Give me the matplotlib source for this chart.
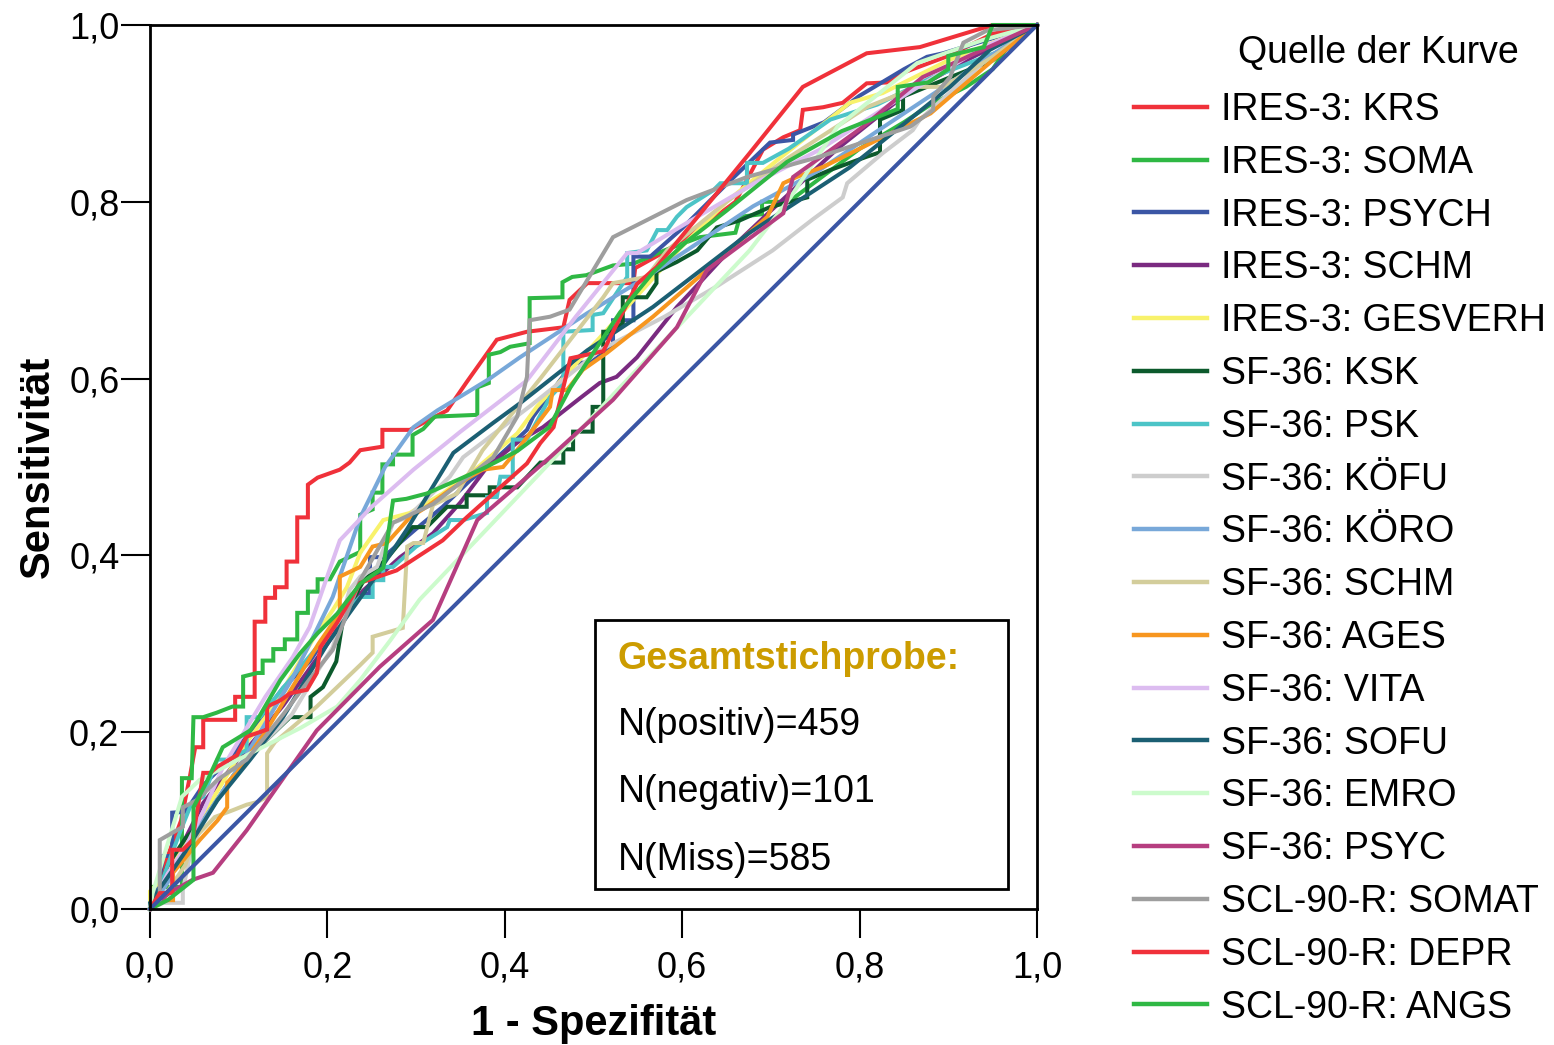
import matplotlib
matplotlib.use("Agg")
import matplotlib.pyplot as plt
from matplotlib.ticker import FuncFormatter
from matplotlib.patches import Rectangle
from matplotlib.lines import Line2D

plt.rcParams['font.family'] = ['Liberation Sans', 'DejaVu Sans']

# ROC curves as (1 - specificity, sensitivity)
ires_krs = [(0, 0), (0.01, 0.03), (0.02, 0.06), (0.035, 0.10), (0.045, 0.15), (0.051, 0.183),
            (0.06, 0.183), (0.06, 0.214), (0.096, 0.214), (0.096, 0.24), (0.118, 0.24),
            (0.118, 0.325), (0.13, 0.325), (0.13, 0.352), (0.141, 0.352), (0.141, 0.364),
            (0.154, 0.364), (0.154, 0.393), (0.166, 0.393), (0.166, 0.443), (0.178, 0.443),
            (0.178, 0.48), (0.189, 0.488), (0.214, 0.497), (0.225, 0.505), (0.237, 0.519),
            (0.262, 0.523), (0.262, 0.542), (0.293, 0.542), (0.335, 0.564), (0.357, 0.596),
            (0.391, 0.644), (0.425, 0.653), (0.466, 0.658), (0.473, 0.689), (0.493, 0.708),
            (0.545, 0.708), (0.547, 0.725), (0.583, 0.745), (0.62, 0.77), (0.66, 0.80),
            (0.691, 0.859), (0.714, 0.873), (0.733, 0.881), (0.736, 0.904), (0.759, 0.907),
            (0.781, 0.912), (0.808, 0.934), (0.831, 0.935), (0.849, 0.946), (0.9, 0.965),
            (0.95, 0.99), (1, 1)]
ires_soma = [(0, 0), (0.003, 0.025), (0.036, 0.025), (0.036, 0.148), (0.047, 0.148),
             (0.049, 0.217), (0.06, 0.217), (0.075, 0.222), (0.093, 0.229), (0.105, 0.229),
             (0.105, 0.263), (0.121, 0.267), (0.127, 0.267), (0.127, 0.281), (0.139, 0.281),
             (0.139, 0.294), (0.152, 0.294), (0.152, 0.305), (0.166, 0.305), (0.166, 0.335),
             (0.178, 0.335), (0.178, 0.359), (0.189, 0.359), (0.189, 0.373), (0.203, 0.373),
             (0.214, 0.393), (0.237, 0.404), (0.237, 0.446), (0.251, 0.452), (0.251, 0.471),
             (0.262, 0.471), (0.262, 0.503), (0.274, 0.503), (0.274, 0.514), (0.296, 0.514),
             (0.296, 0.536), (0.308, 0.543), (0.321, 0.557), (0.369, 0.559), (0.369, 0.59),
             (0.382, 0.595), (0.382, 0.627), (0.395, 0.63), (0.406, 0.636), (0.428, 0.64),
             (0.428, 0.691), (0.465, 0.692), (0.465, 0.709), (0.476, 0.715), (0.492, 0.717),
             (0.522, 0.728), (0.545, 0.73), (0.58, 0.745), (0.62, 0.76), (0.66, 0.765),
             (0.665, 0.783), (0.69, 0.786), (0.69, 0.80), (0.72, 0.80), (0.76, 0.83),
             (0.80, 0.86), (0.85, 0.89), (0.88, 0.91), (0.92, 0.93), (0.95, 0.95),
             (0.97, 0.98), (1, 1)]
ires_psych = [(0, 0), (0.01, 0.03), (0.015, 0.06), (0.025, 0.06), (0.025, 0.109), (0.04, 0.11),
              (0.06, 0.14), (0.09, 0.17), (0.12, 0.21), (0.15, 0.25), (0.18, 0.28), (0.2, 0.31),
              (0.22, 0.34), (0.237, 0.357), (0.248, 0.357), (0.248, 0.398), (0.263, 0.398),
              (0.3, 0.43), (0.33, 0.455), (0.361, 0.485), (0.38, 0.5), (0.425, 0.542),
              (0.432, 0.557), (0.477, 0.618), (0.496, 0.618), (0.522, 0.636), (0.522, 0.666),
              (0.545, 0.666), (0.545, 0.738), (0.564, 0.738), (0.6, 0.77), (0.65, 0.82),
              (0.699, 0.867), (0.725, 0.87), (0.725, 0.876), (0.76, 0.89), (0.8, 0.92),
              (0.85, 0.95), (0.876, 0.964), (0.894, 0.968), (0.95, 0.985), (1, 1)]
ires_schm = [(0, 0), (0.02, 0.04), (0.04, 0.08), (0.06, 0.12), (0.1, 0.17), (0.15, 0.23),
             (0.2, 0.3), (0.24, 0.36), (0.282, 0.398), (0.319, 0.425), (0.35, 0.46), (0.38, 0.5),
             (0.417, 0.53), (0.443, 0.545), (0.485, 0.578), (0.507, 0.595), (0.526, 0.602),
             (0.549, 0.624), (0.594, 0.681), (0.623, 0.712), (0.657, 0.749), (0.7, 0.79),
             (0.775, 0.86), (0.85, 0.92), (0.92, 0.96), (1, 1)]
ires_gesverh = [(0, 0), (0, 0.02), (0.02, 0.04), (0.05, 0.09), (0.08, 0.14), (0.11, 0.19),
                (0.14, 0.23), (0.161, 0.267), (0.188, 0.312), (0.206, 0.338), (0.222, 0.364),
                (0.237, 0.403), (0.263, 0.44), (0.293, 0.448), (0.33, 0.47), (0.37, 0.5),
                (0.414, 0.538), (0.436, 0.568), (0.515, 0.655), (0.545, 0.689), (0.6, 0.75),
                (0.65, 0.8), (0.707, 0.847), (0.789, 0.912), (0.826, 0.923), (0.9, 0.96), (1, 1)]
sf_ksk = [(0, 0), (0.01, 0.02), (0.02, 0.05), (0.04, 0.08), (0.06, 0.1), (0.08, 0.13),
          (0.1, 0.16), (0.13, 0.19), (0.158, 0.217), (0.181, 0.217), (0.181, 0.24),
          (0.195, 0.251), (0.21, 0.28), (0.218, 0.33), (0.24, 0.37), (0.27, 0.4),
          (0.296, 0.432), (0.312, 0.432), (0.335, 0.455), (0.357, 0.455), (0.357, 0.468),
          (0.383, 0.468), (0.383, 0.477), (0.414, 0.477), (0.44, 0.505), (0.466, 0.505),
          (0.466, 0.52), (0.477, 0.52), (0.477, 0.54), (0.499, 0.54), (0.499, 0.568),
          (0.511, 0.568), (0.511, 0.653), (0.522, 0.653), (0.533, 0.663), (0.533, 0.692),
          (0.56, 0.692), (0.571, 0.708), (0.571, 0.721), (0.594, 0.732), (0.617, 0.745),
          (0.639, 0.771), (0.665, 0.779), (0.699, 0.794), (0.741, 0.805), (0.741, 0.825),
          (0.767, 0.836), (0.808, 0.851), (0.823, 0.856), (0.823, 0.893), (0.849, 0.904),
          (0.849, 0.919), (0.9, 0.94), (0.95, 0.96), (1, 1)]
sf_psk = [(0, 0), (0.01, 0.02), (0.02, 0.05), (0.035, 0.09), (0.047, 0.12), (0.06, 0.127),
          (0.076, 0.169), (0.09, 0.169), (0.109, 0.18), (0.109, 0.217), (0.124, 0.217),
          (0.15, 0.25), (0.175, 0.28), (0.2, 0.31), (0.215, 0.33), (0.237, 0.353),
          (0.251, 0.353), (0.251, 0.372), (0.263, 0.372), (0.263, 0.387), (0.274, 0.387),
          (0.3, 0.41), (0.335, 0.432), (0.338, 0.44), (0.353, 0.44), (0.38, 0.448),
          (0.38, 0.466), (0.391, 0.466), (0.395, 0.489), (0.409, 0.489), (0.409, 0.531),
          (0.425, 0.531), (0.451, 0.579), (0.466, 0.595), (0.466, 0.653), (0.499, 0.655),
          (0.499, 0.672), (0.511, 0.674), (0.538, 0.715), (0.538, 0.742), (0.56, 0.745),
          (0.572, 0.768), (0.583, 0.768), (0.594, 0.783), (0.605, 0.794), (0.635, 0.813),
          (0.643, 0.821), (0.673, 0.821), (0.673, 0.844), (0.691, 0.844), (0.72, 0.86),
          (0.767, 0.893), (0.82, 0.91), (0.88, 0.94), (0.962, 0.972), (1, 1)]
sf_koefu = [(0, 0), (0.015, 0.007), (0.037, 0.007), (0.037, 0.021), (0.045, 0.06), (0.06, 0.1),
            (0.08, 0.13), (0.1, 0.16), (0.13, 0.19), (0.16, 0.22), (0.192, 0.274),
            (0.206, 0.296), (0.218, 0.335), (0.225, 0.361), (0.237, 0.376), (0.256, 0.387),
            (0.274, 0.437), (0.29, 0.443), (0.338, 0.489), (0.353, 0.511), (0.43, 0.57),
            (0.507, 0.632), (0.58, 0.67), (0.64, 0.705), (0.702, 0.745), (0.747, 0.78),
            (0.781, 0.805), (0.786, 0.821), (0.826, 0.855), (0.86, 0.881), (0.868, 0.893),
            (0.939, 0.957), (1, 1)]
sf_koero = [(0, 0), (0.02, 0.03), (0.04, 0.07), (0.06, 0.1), (0.08, 0.13), (0.1, 0.16),
            (0.13, 0.21), (0.16, 0.26), (0.185, 0.31), (0.206, 0.353), (0.237, 0.443),
            (0.265, 0.5), (0.297, 0.545), (0.324, 0.564), (0.357, 0.584), (0.383, 0.6),
            (0.417, 0.624), (0.493, 0.674), (0.56, 0.715), (0.605, 0.745), (0.68, 0.795),
            (0.755, 0.836), (0.82, 0.88), (0.88, 0.92), (0.94, 0.96), (1, 1)]
sf_schm = [(0, 0), (0.02, 0.02), (0.04, 0.05), (0.05, 0.08), (0.073, 0.104), (0.094, 0.112),
           (0.109, 0.118), (0.121, 0.121), (0.132, 0.127), (0.132, 0.176), (0.141, 0.189),
           (0.188, 0.229), (0.211, 0.251), (0.237, 0.276), (0.251, 0.29), (0.251, 0.308),
           (0.285, 0.318), (0.29, 0.41), (0.297, 0.414), (0.308, 0.414), (0.319, 0.457),
           (0.346, 0.47), (0.375, 0.519), (0.44, 0.6), (0.511, 0.692), (0.522, 0.708),
           (0.56, 0.715), (0.583, 0.745), (0.65, 0.8), (0.72, 0.85), (0.808, 0.907),
           (0.865, 0.93), (0.894, 0.93), (0.939, 0.957), (0.95, 0.964), (1, 1)]
sf_ages = [(0, 0), (0.015, 0.01), (0.026, 0.01), (0.026, 0.041), (0.056, 0.078), (0.076, 0.1),
           (0.087, 0.115), (0.087, 0.143), (0.098, 0.154), (0.13, 0.2), (0.16, 0.25),
           (0.19, 0.3), (0.214, 0.335), (0.214, 0.376), (0.237, 0.387), (0.251, 0.41),
           (0.267, 0.414), (0.293, 0.443), (0.312, 0.455), (0.338, 0.474), (0.361, 0.489),
           (0.375, 0.497), (0.398, 0.5), (0.417, 0.523), (0.451, 0.568), (0.454, 0.587),
           (0.47, 0.587), (0.488, 0.61), (0.515, 0.629), (0.567, 0.67), (0.628, 0.723),
           (0.696, 0.783), (0.714, 0.821), (0.729, 0.828), (0.76, 0.84), (0.8, 0.86),
           (0.84, 0.88), (0.88, 0.9), (0.95, 0.96), (1, 1)]
sf_vita = [(0, 0), (0.02, 0.04), (0.04, 0.07), (0.06, 0.11), (0.082, 0.16), (0.1, 0.19),
           (0.13, 0.24), (0.161, 0.285), (0.18, 0.319), (0.214, 0.417), (0.25, 0.455),
           (0.297, 0.497), (0.35, 0.54), (0.425, 0.598), (0.48, 0.67), (0.538, 0.742),
           (0.549, 0.742), (0.605, 0.776), (0.68, 0.82), (0.755, 0.859), (0.85, 0.92),
           (0.939, 0.975), (1, 1)]
sf_sofu = [(0, 0), (0, 0.007), (0.04, 0.065), (0.076, 0.123), (0.113, 0.169), (0.15, 0.217),
           (0.2, 0.3), (0.25, 0.37), (0.29, 0.43), (0.342, 0.516), (0.387, 0.55),
           (0.417, 0.572), (0.493, 0.632), (0.567, 0.681), (0.676, 0.765), (0.789, 0.839),
           (0.902, 0.93), (0.947, 0.972), (1, 1)]
sf_emro = [(0, 0), (0.003, 0.018), (0.036, 0.127), (0.056, 0.146), (0.113, 0.176),
           (0.17, 0.205), (0.211, 0.229), (0.237, 0.259), (0.271, 0.304), (0.304, 0.35),
           (0.38, 0.43), (0.451, 0.505), (0.527, 0.587), (0.601, 0.665), (0.676, 0.745),
           (0.722, 0.805), (0.775, 0.885), (0.865, 0.957), (0.939, 0.983), (1, 1)]
sf_psyc = [(0, 0), (0.023, 0.019), (0.048, 0.033), (0.071, 0.041), (0.109, 0.089),
           (0.188, 0.202), (0.259, 0.274), (0.319, 0.327), (0.369, 0.44), (0.451, 0.511),
           (0.522, 0.576), (0.594, 0.658), (0.628, 0.723), (0.714, 0.787), (0.725, 0.828),
           (0.804, 0.885), (0.871, 0.941), (0.939, 0.972), (1, 1)]
scl_somat = [(0, 0), (0.011, 0.007), (0.011, 0.078), (0.037, 0.093), (0.037, 0.115),
             (0.053, 0.123), (0.076, 0.146), (0.109, 0.169), (0.15, 0.22), (0.18, 0.26),
             (0.206, 0.293), (0.237, 0.372), (0.274, 0.437), (0.319, 0.458), (0.387, 0.511),
             (0.414, 0.557), (0.425, 0.602), (0.428, 0.666), (0.451, 0.67), (0.473, 0.678),
             (0.522, 0.76), (0.605, 0.802), (0.673, 0.828), (0.755, 0.851), (0.857, 0.885),
             (0.883, 0.904), (0.883, 0.919), (0.902, 0.941), (0.917, 0.98), (0.944, 0.994),
             (1, 1)]
scl_depr = [(0, 0), (0.011, 0.018), (0.025, 0.018), (0.025, 0.067), (0.037, 0.067),
            (0.048, 0.078), (0.06, 0.154), (0.068, 0.154), (0.076, 0.161), (0.098, 0.174),
            (0.109, 0.195), (0.132, 0.203), (0.132, 0.229), (0.147, 0.236), (0.158, 0.244),
            (0.177, 0.248), (0.188, 0.267), (0.192, 0.296), (0.211, 0.324), (0.237, 0.369),
            (0.278, 0.383), (0.33, 0.417), (0.357, 0.443), (0.425, 0.504), (0.44, 0.527),
            (0.455, 0.545), (0.474, 0.623), (0.511, 0.631), (0.549, 0.707), (0.571, 0.726),
            (0.676, 0.855), (0.736, 0.93), (0.808, 0.968), (0.868, 0.975), (0.95, 1.0), (1, 1)]
scl_angs = [(0, 0), (0.02, 0.01), (0.049, 0.033), (0.049, 0.115), (0.065, 0.146),
            (0.082, 0.183), (0.113, 0.202), (0.121, 0.214), (0.147, 0.259), (0.169, 0.289),
            (0.189, 0.312), (0.211, 0.334), (0.237, 0.368), (0.263, 0.386), (0.274, 0.462),
            (0.289, 0.464), (0.312, 0.47), (0.346, 0.485), (0.375, 0.498), (0.414, 0.518),
            (0.45, 0.545), (0.474, 0.59), (0.53, 0.675), (0.567, 0.72), (0.605, 0.755),
            (0.65, 0.79), (0.718, 0.845), (0.78, 0.88), (0.843, 0.905), (0.843, 0.93),
            (0.877, 0.935), (0.9, 0.95), (0.9, 0.965), (0.94, 0.975), (0.95, 1.0), (1, 1)]
reference = [(0, 0), (1, 1)]

curves = [ires_krs, ires_soma, ires_psych, ires_schm, ires_gesverh, sf_ksk, sf_psk,
          sf_koefu, sf_koero, sf_schm, sf_ages, sf_vita, sf_sofu, sf_emro, sf_psyc,
          scl_somat, scl_depr, scl_angs]
labels = ["IRES-3: KRS", "IRES-3: SOMA", "IRES-3: PSYCH", "IRES-3: SCHM", "IRES-3: GESVERH",
          "SF-36: KSK", "SF-36: PSK", "SF-36: KÖFU", "SF-36: KÖRO", "SF-36: SCHM",
          "SF-36: AGES", "SF-36: VITA", "SF-36: SOFU", "SF-36: EMRO", "SF-36: PSYC",
          "SCL-90-R: SOMAT", "SCL-90-R: DEPR", "SCL-90-R: ANGS"]
colors = ['#f0313a', '#2fb844', '#3b56a5', '#7a2a80', '#f8f26b', '#0c5a2c', '#4cc4c7',
          '#cdcdcd', '#78a8d9', '#d3cd9b', '#f7961f', '#dcbcf0', '#1b5f73', '#ccfbcc',
          '#b63e80', '#9e9e9e', '#f0313a', '#2fb844']

fig = plt.figure(figsize=(15.54, 10.45), dpi=100)
ax = fig.add_axes([150 / 1554, 1 - 909 / 1045, 887 / 1554, 884 / 1045])

lw = 2.9
for pts, col, lab in zip(curves, colors, labels):
    xs, ys = zip(*pts)
    ax.plot(xs, ys, color=col, lw=lw, label=lab, solid_joinstyle='miter', clip_on=False)
rx, ry = zip(*reference)
ax.plot(rx, ry, color='#3b56a5', lw=lw, clip_on=False)

ax.set_xlim(0, 1)
ax.set_ylim(0, 1)
ticks = [0, 0.2, 0.4, 0.6, 0.8, 1.0]
ax.set_xticks(ticks)
ax.set_yticks(ticks)
fmt = FuncFormatter(lambda v, p: f"{v:.1f}".replace('.', ','))
ax.xaxis.set_major_formatter(fmt)
ax.yaxis.set_major_formatter(fmt)
ax.tick_params(direction='out', length=21, width=1.5, labelsize=26, colors='black')
ax.tick_params(axis='x', pad=9)
ax.tick_params(axis='y', pad=1)
for s in ax.spines.values():
    s.set_linewidth(2)

ax.set_xlabel("1 - Spezifität", fontsize=30, fontweight='bold', labelpad=13)
ax.set_ylabel("Sensitivität", fontsize=30, fontweight='bold', labelpad=8,
              family=['Liberation Sans Narrow', 'Liberation Sans', 'DejaVu Sans'])

# info box
ax.add_patch(Rectangle((0.502, 0.0226), 0.465, 0.304, transform=ax.transAxes,
                       facecolor='white', edgecolor='black', lw=2, zorder=5, clip_on=False))
ax.text(0.527, 0.283, "Gesamtstichprobe:", transform=ax.transAxes, fontsize=27,
        fontweight='bold', color='#cc9c00', va='center', zorder=6)
ax.text(0.527, 0.208, "N(positiv)=459", transform=ax.transAxes, fontsize=27, va='center', zorder=6)
ax.text(0.527, 0.132, "N(negativ)=101", transform=ax.transAxes, fontsize=27, va='center', zorder=6)
ax.text(0.527, 0.055, "N(Miss)=585", transform=ax.transAxes, fontsize=27, va='center', zorder=6)

# legend
handles = [Line2D([], [], color=c, lw=3.2) for c in colors]
fig.legend(handles, labels, loc='upper left', bbox_to_anchor=(1134 / 1554, 1 - 92 / 1045),
           frameon=False, fontsize=27, handlelength=1.95, handletextpad=0.37,
           labelspacing=0.448, borderpad=0, borderaxespad=0)
fig.text(1378 / 1554, 1 - 53 / 1045, "Quelle der Kurve", fontsize=27, ha='center', va='center')

fig.savefig("out.png", dpi=100)
